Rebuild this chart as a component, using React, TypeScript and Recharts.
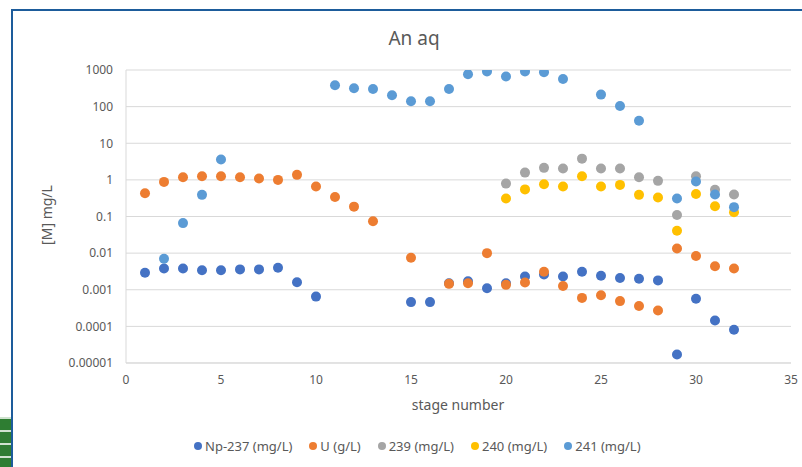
import React from 'react';
import { ScatterChart, Scatter, XAxis, YAxis, CartesianGrid } from 'recharts';

// stage numbers 1..32; null = no sample for that series
const stages = [1, 2, 3, 4, 5, 6, 7, 8, 9, 10, 11, 12, 13, 14, 15, 16, 17, 18, 19, 20, 21, 22, 23, 24, 25, 26, 27, 28, 29, 30, 31, 32];

const np237 = [0.0029, 0.0038, 0.0038, 0.0034, 0.0034, 0.0036, 0.0036, 0.004, 0.0016, 0.00065, null, null, null, null, 0.00046, 0.00046, 0.0015, 0.0017, 0.0011, 0.0015, 0.0023, 0.0026, 0.0023, 0.0031, 0.0024, 0.0021, 0.002, 0.0018, 0.000017, 0.00057, 0.000145, 0.000081];
const uranium = [0.43, 0.88, 1.18, 1.25, 1.25, 1.18, 1.09, 1.0, 1.37, 0.66, 0.34, 0.186, 0.074, null, 0.0075, null, 0.00145, 0.0015, 0.01, 0.00136, 0.00157, 0.0031, 0.00127, 0.0006, 0.00071, 0.00049, 0.00036, 0.00027, 0.0134, 0.0083, 0.0044, 0.0038];
const pu239 = [null, null, null, null, null, null, null, null, null, null, null, null, null, null, null, null, null, null, null, 0.79, 1.58, 2.13, 2.04, 3.8, 2.04, 2.04, 1.18, 0.94, 0.11, 1.25, 0.54, 0.4];
const pu240 = [null, null, null, null, null, null, null, null, null, null, null, null, null, null, null, null, null, null, null, 0.31, 0.55, 0.76, 0.66, 1.25, 0.66, 0.73, 0.39, 0.33, 0.041, 0.41, 0.19, 0.13];
const pu241 = [null, 0.007, 0.066, 0.39, 3.6, null, null, null, null, null, 383, 316, 302, 204, 140, 140, 302, 767, 910, 663, 910, 870, 570, null, 213, 104, 41, null, 0.31, 0.9, 0.4, 0.18];

const seriesNames = ['Np-237 (mg/L)', 'U (g/L)', '239 (mg/L)', '240 (mg/L)', '241 (mg/L)'];
const seriesValues = [np237, uranium, pu239, pu240, pu241];
const seriesColors = ['#4472C4', '#ED7D31', '#A5A5A5', '#FFC000', '#5B9BD5'];

const xTicks = [0, 5, 10, 15, 20, 25, 30, 35];
const yTicks = [0.00001, 0.0001, 0.001, 0.01, 0.1, 1, 10, 100, 1000];
const yTickLabels = ['0.00001', '0.0001', '0.001', '0.01', '0.1', '1', '10', '100', '1000'];

const FONT = '"Noto Sans", sans-serif';
const TEXT = '#595959';

const toPoints = (values: (number | null)[]) =>
  stages.map((s, i) => ({ x: s, y: values[i] })).filter((p) => p.y != null);

const App: React.FC = () => {
  return (
    <div style={{ position: 'absolute', left: 0, top: 0, width: 802, height: 467, overflow: 'hidden', background: '#fff', fontFamily: FONT }}>
      {/* green artwork peeking in at the bottom-left */}
      <div style={{ position: 'absolute', left: 0, top: 417, width: 11, height: 50, background: 'repeating-linear-gradient(to bottom, #cfe3cf 0px, #cfe3cf 2px, #2e7d32 2px, #2e7d32 13px)' }} />
      {/* frame */}
      <div style={{ position: 'absolute', left: 11, top: 9, width: 820, height: 480, borderTop: '2px solid #1d5c9b', borderLeft: '2px solid #1d5c9b' }} />

      <div style={{ position: 'absolute', left: 0, top: 0 }}>
        <ScatterChart width={802} height={467} margin={{ top: 70, right: 11, bottom: 0, left: 0 }}>
          <CartesianGrid vertical={false} stroke="#d9d9d9" />
          <XAxis
            type="number"
            dataKey="x"
            domain={[0, 35]}
            ticks={xTicks}
            interval={0}
            height={104}
            axisLine={{ stroke: '#d9d9d9' }}
            tickLine={false}
            tickMargin={6}
            tick={{ fill: TEXT, fontSize: 12, fontFamily: FONT }}
          />
          <YAxis
            type="number"
            dataKey="y"
            scale="log"
            domain={[0.00001, 1000]}
            ticks={yTicks}
            interval={0}
            allowDataOverflow
            width={126}
            axisLine={{ stroke: '#d9d9d9' }}
            tickLine={false}
            tickMargin={7}
            tick={{ fill: TEXT, fontSize: 12, fontFamily: FONT }}
            tickFormatter={(v: number) => {
              const i = yTicks.indexOf(v);
              return i >= 0 ? yTickLabels[i] : String(v);
            }}
          />
          {seriesNames.map((name, k) => (
            <Scatter
              key={name}
              name={name}
              data={toPoints(seriesValues[k])}
              fill={seriesColors[k]}
              isAnimationActive={false}
              shape={(p: any) => <circle cx={p.cx} cy={p.cy} r={5} fill={seriesColors[k]} />}
            />
          ))}
        </ScatterChart>
      </div>

      <div style={{ position: 'absolute', left: 314, width: 200, top: 25, textAlign: 'center', fontSize: 19, color: TEXT }}>An aq</div>
      <div style={{ position: 'absolute', left: 46, top: 215, transform: 'translate(-50%, -50%) rotate(-90deg)', fontSize: 14, color: TEXT, whiteSpace: 'nowrap' }}>[M] mg/L</div>
      <div style={{ position: 'absolute', left: 358, width: 200, top: 395, textAlign: 'center', fontSize: 14, color: TEXT }}>stage number</div>

      <div style={{ position: 'absolute', left: 194, top: 437, display: 'flex', alignItems: 'center', fontSize: 13, color: TEXT, whiteSpace: 'nowrap' }}>
        {seriesNames.map((name, k) => (
          <div key={name} style={{ display: 'flex', alignItems: 'center', marginRight: 17 }}>
            <span style={{ width: 8, height: 8, borderRadius: 4, background: seriesColors[k], marginRight: 3, display: 'inline-block' }} />
            <span>{name}</span>
          </div>
        ))}
      </div>
    </div>
  );
};

export default App;
